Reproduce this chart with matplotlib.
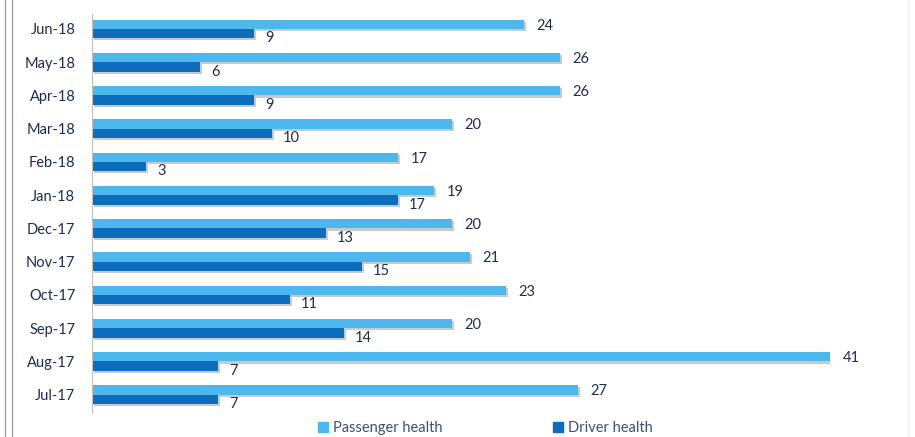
import numpy as np
import matplotlib as mpl
import matplotlib.pyplot as plt
import matplotlib.patheffects as pe
from matplotlib.lines import Line2D
from matplotlib.patches import Patch

mpl.rc('font', family=['Lato', 'DejaVu Sans'], size=10)

months = ['Jul-17', 'Aug-17', 'Sep-17', 'Oct-17', 'Nov-17', 'Dec-17',
          'Jan-18', 'Feb-18', 'Mar-18', 'Apr-18', 'May-18', 'Jun-18']
passenger = [27, 41, 20, 23, 21, 20, 19, 17, 20, 26, 26, 24]
driver = [7, 7, 14, 11, 15, 13, 17, 3, 10, 9, 6, 9]

light = '#4db8ee'
dark = '#0b6dbc'
txt = '#1f2d4f'

fig = plt.figure(figsize=(9.15, 4.37), dpi=100)
ax = fig.add_axes((92/915, 1 - 413/437, 830/915 - 92/915, (413 - 14)/437))

y = np.arange(len(months))
h = 0.28
shadow = [pe.SimplePatchShadow(offset=(1.5, -1.5), shadow_rgbFace='#666666', alpha=0.35), pe.Normal()]
ax.barh(y + h/2, passenger, height=h, color=light, path_effects=shadow)
ax.barh(y - h/2, driver, height=h, color=dark, path_effects=shadow)

for v, yy in zip(passenger, y + h/2):
    ax.annotate(str(v), (v, yy), xytext=(9, -1), textcoords='offset points',
                va='center', ha='left', color=txt, fontsize=10.5)
for v, yy in zip(driver, y - h/2):
    ax.annotate(str(v), (v, yy), xytext=(8, -3.5), textcoords='offset points',
                va='center', ha='left', color=txt, fontsize=10.5)

ax.set_xlim(0, 41)
ax.set_ylim(-0.55, 11.45)
ax.set_yticks(y)
ax.set_yticklabels(months, color=txt, fontsize=10.5)
ax.tick_params(axis='y', length=0, pad=12)
ax.set_xticks([])
for s in ['top', 'right', 'bottom']:
    ax.spines[s].set_visible(False)
ax.spines['left'].set_color('#bfbfbf')
ax.spines['left'].set_linewidth(0.8)

handles = [Patch(color=light), Patch(color=dark)]
fig.legend(handles, ['Passenger health', 'Driver health'], loc='lower left',
           bbox_to_anchor=(305/915, -0.025), ncol=2, frameon=False, handlelength=0.7,
           handleheight=0.7, handletextpad=0.3, columnspacing=7.6,
           labelcolor='#3c5078', fontsize=10.5)

# frame lines on the page
for xp in [5, 12]:
    fig.add_artist(Line2D([xp/915, xp/915], [0, 1], color='#9a9a9a', lw=0.9))
fig.add_artist(Line2D([908/915, 908/915], [0, 1], color='#eeeeee', lw=1))

fig.savefig('out.png', dpi=100)
